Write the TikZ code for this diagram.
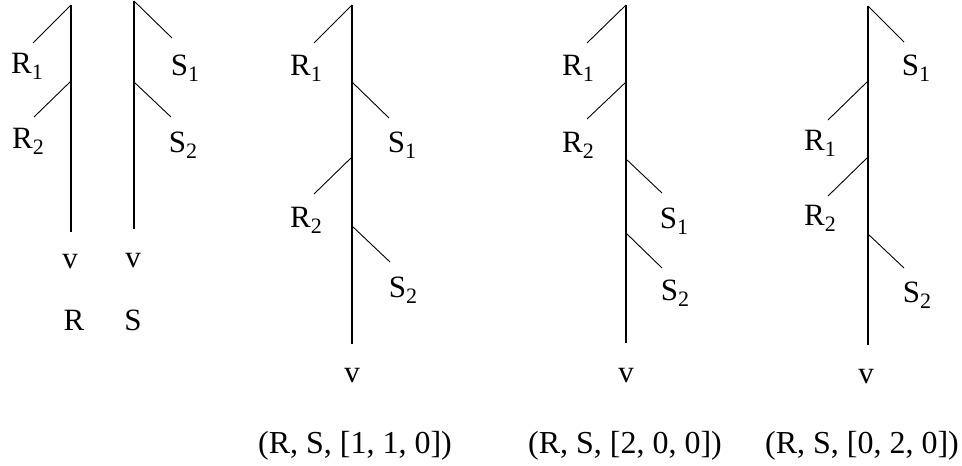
\documentclass[tikz,border=0pt]{standalone}
\usepackage{fontspec}
\setmainfont{Liberation Serif}
\newcommand\lsub[1]{\raisebox{-6pt}{\fontsize{22}{22}\selectfont #1}}
\begin{document}
\begin{tikzpicture}[x=1pt,y=-1pt,
  trunk/.style={line width=2pt},
  twig/.style={line width=0.9pt},
  lbl/.style={anchor=base, inner sep=0pt, font=\fontsize{31}{31}\selectfont},
  captext/.style={anchor=base, inner sep=0pt, font=\fontsize{32}{32}\selectfont}]
\useasboundingbox (0,0) rectangle (962,466);

% ---- panel R ----
\coordinate (aT) at (71,5); \coordinate (aB) at (71,232);
\coordinate (aE1) at (33,43); \coordinate (aJ2) at (71,81); \coordinate (aE2) at (34,117);
\draw[trunk] (aT) -- (aB);
\draw[twig] (aT) -- (aE1);
\draw[twig] (aJ2) -- (aE2);
\node[lbl] (aL1) at (27,73) {R\lsub{1}};
\node[lbl] (aL2) at (28,148) {R\lsub{2}};
\node[lbl] (aV) at (70,268) {v};
\node[lbl] (aN) at (74,330) {R};

% ---- panel S ----
\coordinate (bT) at (134,1); \coordinate (bB) at (134,229);
\coordinate (bE1) at (172,38); \coordinate (bJ2) at (134,82); \coordinate (bE2) at (171,117);
\draw[trunk] (bT) -- (bB);
\draw[twig] (bT) -- (bE1);
\draw[twig] (bJ2) -- (bE2);
\node[lbl] (bL1) at (185,75) {S\lsub{1}};
\node[lbl] (bL2) at (183,152) {S\lsub{2}};
\node[lbl] (bV) at (133,267) {v};
\node[lbl] (bN) at (133,330) {S};

% ---- panel [1,1,0] ----
\coordinate (cT) at (352,5); \coordinate (cB) at (352,344);
\coordinate (cE1) at (314,43);
\coordinate (cJ2) at (352,82); \coordinate (cE2) at (389,118);
\coordinate (cJ3) at (352,157); \coordinate (cE3) at (314,194);
\coordinate (cJ4) at (352,226); \coordinate (cE4) at (390,262);
\draw[trunk] (cT) -- (cB);
\draw[twig] (cT) -- (cE1);
\draw[twig] (cJ2) -- (cE2);
\draw[twig] (cJ3) -- (cE3);
\draw[twig] (cJ4) -- (cE4);
\node[lbl] (cL1) at (306,75) {R\lsub{1}};
\node[lbl] (cL2) at (402,152) {S\lsub{1}};
\node[lbl] (cL3) at (306,227) {R\lsub{2}};
\node[lbl] (cL4) at (403,297) {S\lsub{2}};
\node[lbl] (cV) at (352,382) {v};
\node[captext] (cN) at (355,453) {(R, S, [1, 1, 0])};

% ---- panel [2,0,0] ----
\coordinate (dT) at (626,5); \coordinate (dB) at (626,343);
\coordinate (dE1) at (587,43);
\coordinate (dJ2) at (626,82); \coordinate (dE2) at (587,119);
\coordinate (dJ3) at (626,159); \coordinate (dE3) at (662,193);
\coordinate (dJ4) at (626,233); \coordinate (dE4) at (662,268);
\draw[trunk] (dT) -- (dB);
\draw[twig] (dT) -- (dE1);
\draw[twig] (dJ2) -- (dE2);
\draw[twig] (dJ3) -- (dE3);
\draw[twig] (dJ4) -- (dE4);
\node[lbl] (dL1) at (578,75) {R\lsub{1}};
\node[lbl] (dL2) at (578,152) {R\lsub{2}};
\node[lbl] (dL3) at (674,228) {S\lsub{1}};
\node[lbl] (dL4) at (675,300) {S\lsub{2}};
\node[lbl] (dV) at (626,382) {v};
\node[captext] (dN) at (625,453) {(R, S, [2, 0, 0])};

% ---- panel [0,2,0] ----
\coordinate (eT) at (868,6); \coordinate (eB) at (868,345);
\coordinate (eE1) at (904,42);
\coordinate (eJ2) at (868,81); \coordinate (eE2) at (828,120);
\coordinate (eJ3) at (868,157); \coordinate (eE3) at (828,196);
\coordinate (eJ4) at (868,234); \coordinate (eE4) at (904,268);
\draw[trunk] (eT) -- (eB);
\draw[twig] (eT) -- (eE1);
\draw[twig] (eJ2) -- (eE2);
\draw[twig] (eJ3) -- (eE3);
\draw[twig] (eJ4) -- (eE4);
\node[lbl] (eL1) at (916,75) {S\lsub{1}};
\node[lbl] (eL2) at (820,150) {R\lsub{1}};
\node[lbl] (eL3) at (820,225) {R\lsub{2}};
\node[lbl] (eL4) at (917,302) {S\lsub{2}};
\node[lbl] (eV) at (866,383) {v};
\node[captext] (eN) at (862,453) {(R, S, [0, 2, 0])};
\end{tikzpicture}
\end{document}
